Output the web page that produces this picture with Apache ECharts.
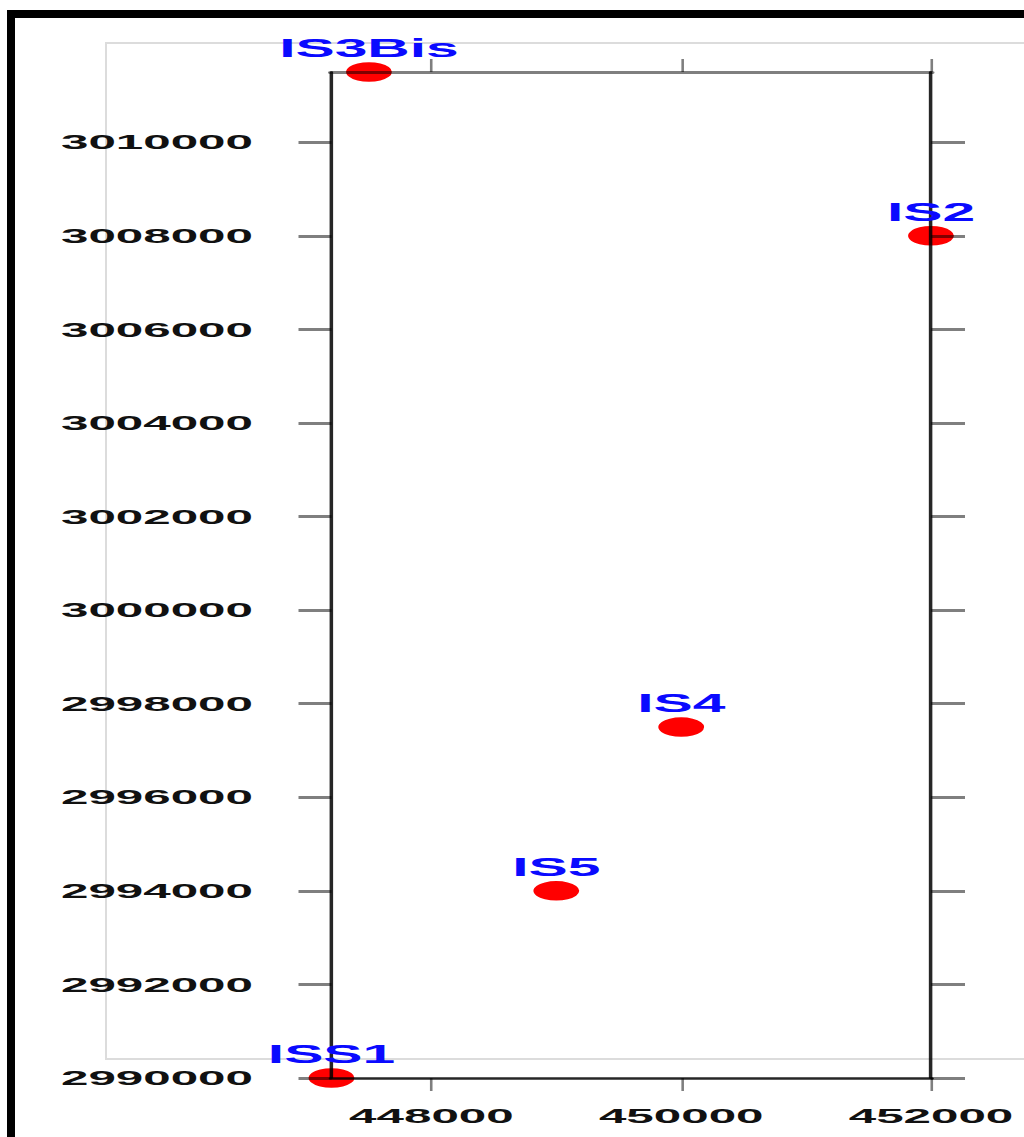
<!DOCTYPE html>
<html>
<head>
<meta charset="utf-8">
<script src="https://cdn.jsdelivr.net/npm/echarts@6/dist/echarts.min.js"></script>
<style>
  html, body { margin: 0; padding: 0; width: 1024px; height: 1137px; overflow: hidden; background: #fff; }
  #frame { position: absolute; left: 7px; top: 10px; width: 2000px; height: 2000px; border: 8px solid #000; box-sizing: border-box; }
  #inner { position: absolute; left: 105px; top: 42px; width: 1000px; height: 1018px; border: 2px solid #dcdcdc; box-sizing: border-box; }
  #chart { position: absolute; left: 0; top: 0; height: 1137px; transform-origin: 0 0; }
</style>
</head>
<body>
<div id="frame"></div>
<div id="inner"></div>
<div id="chart"></div>
<script>
// ---- data ----
const stationNames = ['ISS1', 'IS3Bis', 'IS2', 'IS4', 'IS5'];
const eastings     = [447200, 447500, 452000, 450000, 449000];
const northings    = [2990000, 3011500, 3008000, 2997500, 2994000];
const xTicks = [448000, 450000, 452000];
const yTicks = [2990000, 2992000, 2994000, 2996000, 2998000, 3000000, 3002000, 3004000, 3006000, 3008000, 3010000];
const X_MIN = 447200, X_MAX = 452000;
const Y_MIN = 2990000, Y_MAX = 3011500;

// ---- layout (the original picture is stretched horizontally) ----
const SX = 2.35;
const u = v => v / SX;
const el = document.getElementById('chart');
el.style.width = (1024 / SX) + 'px';
el.style.transform = 'scaleX(' + SX + ')';

const chart = echarts.init(el, null, { renderer: 'svg' });

const grayLine = 'rgba(0,0,0,0.5)';
const darkLine = 'rgba(0,0,0,0.85)';
const plain = v => String(v);
const labelFont = { fontSize: 21, fontWeight: 'bold', fontFamily: 'Liberation Sans', color: '#111', formatter: plain };

const points = stationNames.map((n, i) => ({ name: n, value: [eastings[i], northings[i]] }));

chart.setOption({
  animation: false,
  grid: { left: u(331.5), top: 72, width: u(599.5), height: 1006, containLabel: false },
  xAxis: [
    {
      type: 'value', position: 'bottom', min: X_MIN, max: X_MAX, z: 3,
      axisLine: { onZero: false, lineStyle: { color: darkLine, width: 2.5 } },
      axisTick: { customValues: xTicks, length: 13, lineStyle: { color: grayLine, width: 1.1 } },
      axisLabel: Object.assign({ customValues: xTicks, margin: 27 }, labelFont),
      splitLine: { show: false }
    },
    {
      type: 'value', position: 'top', min: X_MIN, max: X_MAX, z: 3,
      axisLine: { onZero: false, lineStyle: { color: grayLine, width: 3 } },
      axisTick: { customValues: xTicks, length: 13, lineStyle: { color: grayLine, width: 1.1 } },
      axisLabel: { show: false },
      splitLine: { show: false }
    }
  ],
  yAxis: [
    {
      type: 'value', position: 'left', min: Y_MIN, max: Y_MAX, z: 3,
      axisLine: { onZero: false, lineStyle: { color: darkLine, width: 1.5 } },
      axisTick: { customValues: yTicks, length: u(33), lineStyle: { color: grayLine, width: 3 } },
      axisLabel: Object.assign({ customValues: yTicks, margin: u(78.5) }, labelFont),
      splitLine: { show: false }
    },
    {
      type: 'value', position: 'right', min: Y_MIN, max: Y_MAX, z: 3,
      axisLine: { onZero: false, lineStyle: { color: darkLine, width: 1.5 } },
      axisTick: { customValues: yTicks, length: u(34), lineStyle: { color: grayLine, width: 3 } },
      axisLabel: { show: false },
      splitLine: { show: false }
    }
  ],
  series: [
    {
      type: 'scatter', z: 2, clip: false, symbolSize: 19.5,
      itemStyle: { color: '#ff0000', opacity: 1 },
      emphasis: { disabled: true },
      data: points
    },
    {
      type: 'scatter', z: 10, clip: false, symbolSize: 19.5,
      itemStyle: { color: 'rgba(0,0,0,0)' },
      emphasis: { disabled: true },
      label: {
        show: true, position: 'top', distance: 1, formatter: '{b}', opacity: 1,
        color: '#0a0aff', fontSize: 25, fontWeight: 'bold', fontFamily: 'Liberation Sans'
      },
      data: points
    }
  ]
});
</script>
</body>
</html>
